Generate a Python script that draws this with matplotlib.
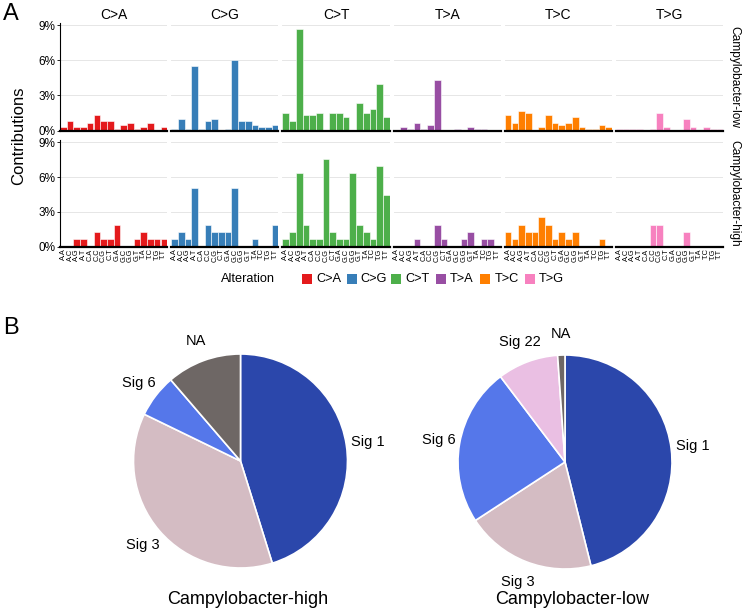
import matplotlib
matplotlib.use("Agg")
import matplotlib.pyplot as plt
from matplotlib.patches import Rectangle

plt.rcParams['font.family'] = ['Liberation Sans', 'DejaVu Sans']

# ---------------- data ----------------
mut_types = ["C>A", "C>G", "C>T", "T>A", "T>C", "T>G"]
contexts = ["A.A", "A.C", "A.G", "A.T", "C.A", "C.C", "C.G", "C.T",
            "G.A", "G.C", "G.G", "G.T", "T.A", "T.C", "T.G", "T.T"]
type_colors = ["#E41A1C", "#377EB8", "#4DAF4A", "#984EA3", "#FF7F00", "#F781BF"]
samples = ["Campylobacter-low", "Campylobacter-high"]

low_CA = [0.33, 0.83, 0.33, 0.33, 0.67, 1.33, 0.83, 0.83, 0.17, 0.5, 0.67, 0.17, 0.33, 0.67, 0, 0.33]
low_CG = [0.17, 1.0, 0.17, 5.5, 0.17, 0.83, 1.0, 0, 0.17, 6.0, 0.83, 0.83, 0.5, 0.33, 0.33, 0.5]
low_CT = [1.5, 0.83, 8.67, 1.33, 1.33, 1.5, 0, 1.5, 1.5, 1.17, 0, 2.33, 1.5, 1.83, 4.0, 1.17]
low_TA = [0, 0.33, 0.17, 0.67, 0.17, 0.5, 4.33, 0, 0, 0.17, 0, 0.33, 0.17, 0.17, 0, 0]
low_TC = [1.33, 0.67, 1.67, 1.5, 0, 0.33, 1.33, 0.67, 0.5, 0.67, 1.17, 0.33, 0.17, 0.17, 0.5, 0.33]
low_TG = [0.17, 0.17, 0.17, 0.17, 0, 0.17, 1.5, 0.33, 0, 0, 1.0, 0.33, 0, 0.33, 0.17, 0.17]

high_CA = [0, 0, 0.63, 0.63, 0, 1.27, 0.63, 0.63, 1.9, 0, 0, 0.63, 1.27, 0.63, 0.63, 0.63]
high_CG = [0.63, 1.27, 0.63, 5.08, 0, 1.9, 1.27, 1.27, 1.27, 5.08, 0, 0, 0.63, 0, 0, 1.9]
high_CT = [0.63, 1.27, 6.33, 1.9, 0.63, 0.63, 7.59, 1.27, 0.63, 0.63, 6.33, 1.9, 1.27, 0.63, 6.96, 4.43]
high_TA = [0, 0, 0, 0.63, 0, 0, 1.9, 0.63, 0, 0, 0.63, 1.27, 0, 0.63, 0.63, 0]
high_TC = [1.27, 0.63, 1.9, 1.27, 1.27, 2.54, 1.9, 0.63, 1.27, 0.63, 1.27, 0, 0, 0, 0.63, 0]
high_TG = [0, 0, 0, 0, 0, 1.9, 1.9, 0, 0, 0, 1.27, 0, 0, 0, 0, 0]

profiles = [[low_CA, low_CG, low_CT, low_TA, low_TC, low_TG],
            [high_CA, high_CG, high_CT, high_TA, high_TC, high_TG]]

y_ticks = [0, 3, 6, 9]
y_ticklabels = ["0%", "3%", "6%", "9%"]

pie_high_labels = ["Sig 1", "Sig 3", "Sig 6", "NA"]
pie_high_values = [45.2, 37.0, 6.5, 11.3]
pie_high_colors = ["#2B47AB", "#D4BCC3", "#5577EA", "#6E6765"]

pie_low_labels = ["Sig 1", "Sig 3", "Sig 6", "Sig 22", "NA"]
pie_low_values = [46.1, 19.7, 23.9, 9.2, 1.1]
pie_low_colors = ["#2B47AB", "#D4BCC3", "#5577EA", "#EABFE3", "#6E6765"]

# ---------------- layout helpers ----------------
W, H = 743, 610
fig = plt.figure(figsize=(W / 100, H / 100), dpi=100)


def rect(x0, y0, x1, y1):
    return [x0 / W, 1 - y1 / H, (x1 - x0) / W, (y1 - y0) / H]


def fx(x):
    return x / W


def fy(y):
    return 1 - y / H


col_left, col_w, col_gap = 60, 107.2, 4.0
row_spans = [(23.0, 130.5), (140.0, 246.5)]

for r, (top, bot) in enumerate(row_spans):
    for c, mt in enumerate(mut_types):
        x0 = col_left + c * (col_w + col_gap)
        ax = fig.add_axes(rect(x0, top, x0 + col_w, bot))
        vals = profiles[r][c]
        ax.bar(range(len(contexts)), vals, width=1.0, color=type_colors[c],
               edgecolor="white", linewidth=0.4, zorder=2)
        ax.set_xlim(-0.5, len(contexts) - 0.5)
        ax.set_ylim(0, 9.2)
        ax.set_yticks(y_ticks)
        for yv in y_ticks[1:]:
            ax.axhline(yv, color="#E6E6E6", lw=0.7, zorder=0)
        for s in ["top", "right"]:
            ax.spines[s].set_visible(False)
        ax.spines["bottom"].set_linewidth(1.6)
        ax.spines["bottom"].set_color("black")
        ax.spines["bottom"].set_zorder(3)
        if c == 0:
            ax.spines["left"].set_linewidth(0.8)
            ax.set_yticklabels(y_ticklabels, fontsize=8.5)
            ax.tick_params(axis="y", length=2, width=0.6, pad=1.5)
        else:
            ax.spines["left"].set_visible(False)
            ax.tick_params(axis="y", length=0, labelleft=False)
        if r == len(row_spans) - 1:
            ax.set_xticks(range(len(contexts)))
            ax.set_xticklabels(contexts, rotation=90, fontsize=5.3)
            ax.tick_params(axis="x", length=0, pad=1.5)
        else:
            ax.set_xticks([])
        if r == 0:
            ax.set_title(mt, fontsize=10, pad=3)
        if c == len(mut_types) - 1:
            ax.text(1.1, 0.5, samples[r], transform=ax.transAxes, rotation=-90,
                    ha="center", va="center", fontsize=8.6)

fig.text(fx(19), fy(136), "Contributions", rotation=90, ha="center", va="center", fontsize=12)
fig.text(fx(3), fy(14), "A", fontsize=17, ha="left", va="center")
fig.text(fx(3), fy(328), "B", fontsize=17, ha="left", va="center")

# legend
leg_y = 279
fig.text(fx(248), fy(leg_y), "Alteration", fontsize=9.2, ha="center", va="center")
for i, (mt, col) in enumerate(zip(mut_types, type_colors)):
    sx = 302 + i * 44.6
    fig.add_artist(Rectangle((fx(sx), fy(leg_y + 5)), 10 / W, 10 / H,
                             transform=fig.transFigure, facecolor=col, edgecolor="none"))
    fig.text(fx(sx + 14), fy(leg_y), mt, fontsize=9.2, ha="left", va="center")


# pies
def draw_pie(cx, cy, radius, values, labels, colors, title):
    ax = fig.add_axes(rect(cx - radius, cy - radius, cx + radius, cy + radius))
    wedges, texts = ax.pie(values, labels=labels, colors=colors, startangle=90,
                           counterclock=False, labeldistance=1.2,
                           wedgeprops=dict(edgecolor="white", linewidth=1.2),
                           textprops=dict(fontsize=10.5, ha="center", va="center"))
    ax.set_xlim(-1, 1)
    ax.set_ylim(-1, 1)
    ax.set_aspect("equal")
    fig.text(fx(cx + 7), fy(600), title, fontsize=13, ha="center", va="center")


draw_pie(240.5, 461, 107, pie_high_values, pie_high_labels, pie_high_colors, "Campylobacter-high")
draw_pie(565, 462, 107, pie_low_values, pie_low_labels, pie_low_colors, "Campylobacter-low")

fig.savefig("out.png", dpi=100)
